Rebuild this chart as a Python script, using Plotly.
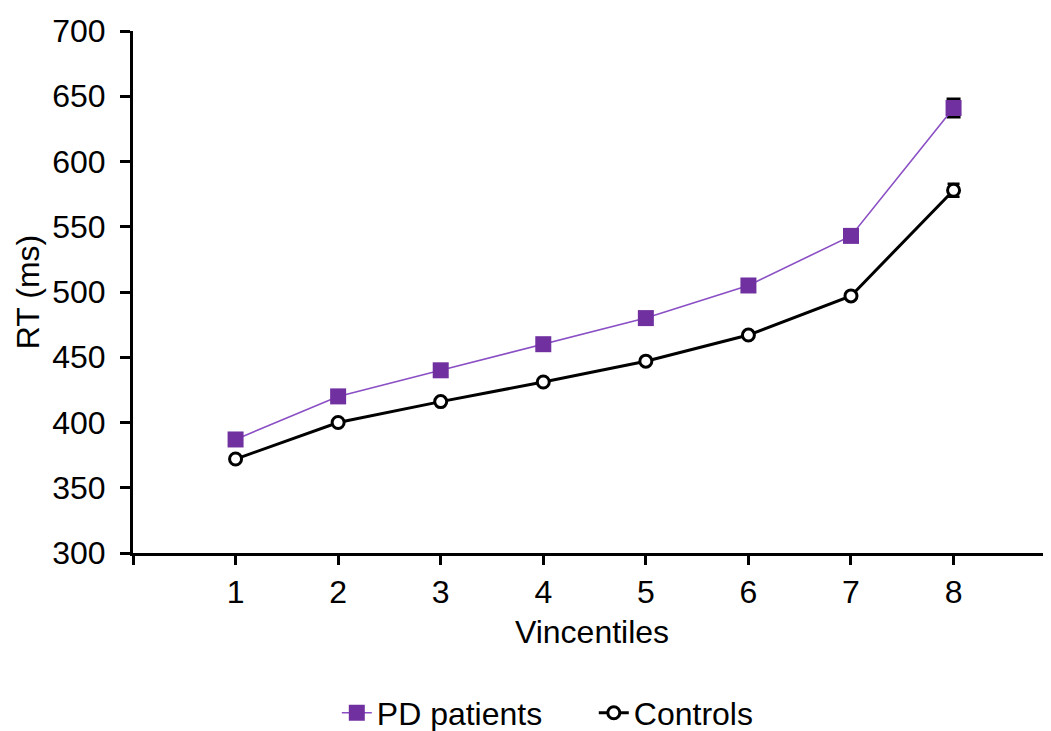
import plotly.graph_objects as go

vincentiles = [1, 2, 3, 4, 5, 6, 7, 8]
pd_patients = [387, 420, 440, 460, 480, 505, 543, 641]
controls = [372, 400, 416, 431, 447, 467, 497, 578]
pd_err = [0, 0, 0, 0, 0, 0, 0, 7]
ctrl_err = [0, 0, 0, 0, 0, 0, 0, 5]
y_ticks = [300, 350, 400, 450, 500, 550, 600, 650, 700]

FONT = "Liberation Sans, Arial, sans-serif"
PURPLE = "#7030A0"

fig = go.Figure()
fig.add_trace(go.Scatter(
    x=vincentiles, y=pd_patients, name="PD patients", mode="lines+markers",
    line=dict(color="#8a4fc4", width=1.6),
    marker=dict(symbol="square", size=16, color=PURPLE, line=dict(width=0)),
    error_y=dict(type="data", array=pd_err, visible=True, color="black", thickness=2.5, width=7),
))
fig.add_trace(go.Scatter(
    x=vincentiles, y=controls, name="Controls", mode="lines+markers",
    line=dict(color="black", width=3),
    marker=dict(symbol="circle", size=12, color="white", line=dict(color="black", width=3)),
    error_y=dict(type="data", array=ctrl_err, visible=True, color="black", thickness=2.5, width=6),
))

fig.update_layout(
    width=1051, height=760,
    margin=dict(l=125, r=8, t=23, b=215),
    paper_bgcolor="white", plot_bgcolor="white",
    font=dict(family=FONT, size=32, color="black"),
    showlegend=True,
    legend=dict(orientation="h", x=0.222, xref="paper", xanchor="left",
                y=-0.3065, yanchor="middle", font=dict(size=32),
                entrywidth=212, entrywidthmode="pixels",
                tracegroupgap=0, bgcolor="rgba(0,0,0,0)"),
    xaxis=dict(
        range=[0, 8.95], tickmode="array",
        tickvals=[0] + vincentiles, ticktext=[""] + [str(v) for v in vincentiles],
        ticks="outside", ticklen=9, tickwidth=2.5, tickcolor="black",
        showline=True, linecolor="black", linewidth=3,
        showgrid=False, zeroline=False, automargin=False,
        title=dict(text="Vincentiles", standoff=12, font=dict(size=32)),
        tickfont=dict(size=32),
    ),
    yaxis=dict(
        range=[300, 700], tickmode="array", tickvals=y_ticks,
        ticks="outside", ticklen=10, tickwidth=2.5, tickcolor="black",
        showline=True, linecolor="black", linewidth=3,
        showgrid=False, zeroline=False, automargin=False,
        title=dict(text="RT (ms)", standoff=4, font=dict(size=32)),
        tickfont=dict(size=32), ticklabelstandoff=8,
    ),
)

fig.write_html("out.html")
